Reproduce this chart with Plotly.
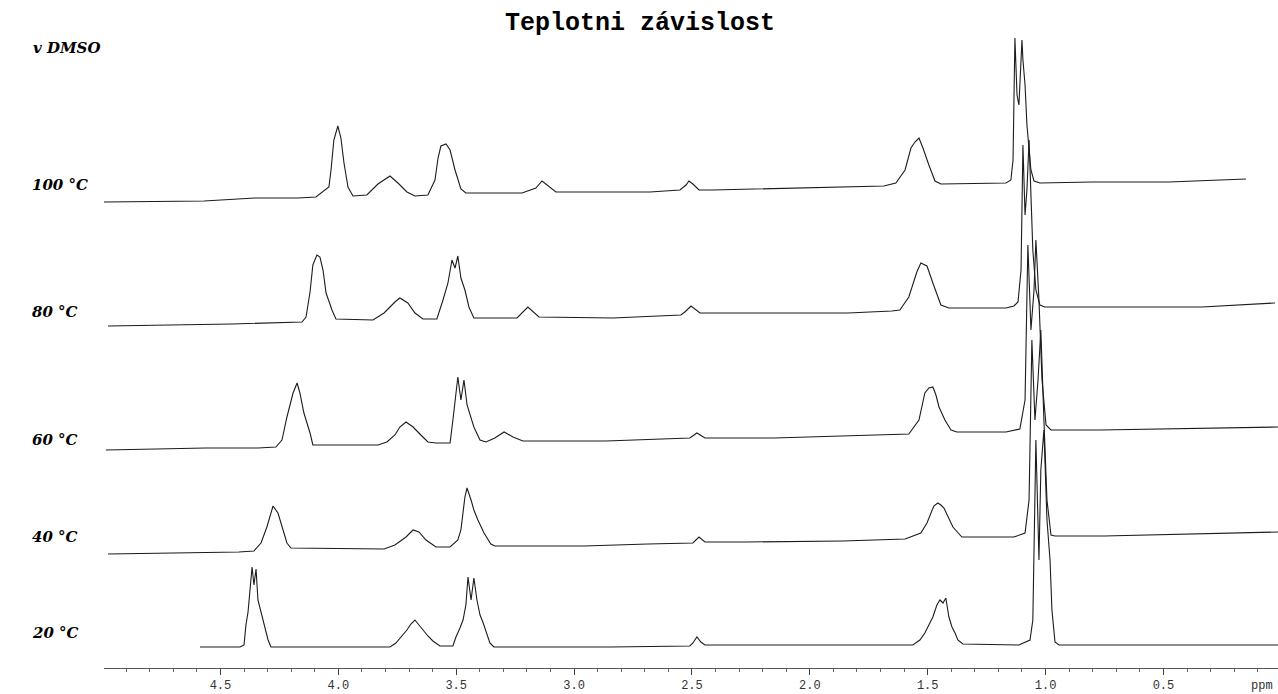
import plotly.graph_objects as go

# ---------------- data (ppm, stacked intensity) ----------------
ppm_100 = [5.020, 4.570, 4.354, 4.171, 4.095, 4.040, 4.031, 4.019, 4.002, 3.989, 3.976, 3.959, 3.938,
           3.879, 3.832, 3.781, 3.747, 3.709, 3.675, 3.620, 3.590, 3.577, 3.565, 3.543, 3.526, 3.505,
           3.480, 3.459, 3.221, 3.162, 3.136, 3.111, 3.077, 2.678, 2.551, 2.525, 2.513, 2.496, 2.470,
           2.411, 2.012, 1.686, 1.635, 1.596, 1.571, 1.554, 1.537, 1.520, 1.495, 1.469, 1.444, 1.168,
           1.147, 1.138, 1.130, 1.121, 1.113, 1.104, 1.100, 1.096, 1.087, 1.079, 1.070, 1.062, 1.049,
           1.024, 0.803, 0.477, 0.150]
int_100 = [466, 467, 470, 470, 471, 481, 498, 528, 542, 530, 505, 481, 472,
           473, 484, 492, 485, 476, 472, 473, 488, 510, 522, 524, 518, 498,
           479, 475, 475, 480, 487, 482, 476, 476, 478, 483, 487, 484, 478,
           478, 480, 482, 485, 498, 520, 526, 530, 520, 503, 487, 484, 485,
           488, 508, 630, 573, 563, 613, 628, 608, 583, 543, 518, 498, 487,
           485, 486, 486, 489]

ppm_80 = [4.977, 4.718, 4.451, 4.154, 4.137, 4.120, 4.108, 4.091, 4.078, 4.065, 4.052, 4.027, 4.010,
          3.853, 3.806, 3.760, 3.739, 3.705, 3.675, 3.641, 3.582, 3.556, 3.535, 3.518, 3.505, 3.493,
          3.480, 3.463, 3.446, 3.425, 3.242, 3.196, 3.149, 2.835, 2.547, 2.530, 2.504, 2.466, 2.360,
          1.838, 1.652, 1.618, 1.580, 1.546, 1.529, 1.503, 1.478, 1.444, 1.410, 1.168, 1.134, 1.117,
          1.104, 1.096, 1.087, 1.079, 1.070, 1.062, 1.054, 1.041, 1.024, 1.003, 0.337, 0.027]
int_80 = [342, 343, 344, 346, 351, 376, 403, 413, 411, 398, 375, 358, 349,
          348, 355, 366, 370, 365, 355, 349, 349, 368, 385, 408, 400, 412,
          390, 378, 361, 350, 350, 361, 351, 350, 353, 356, 362, 355, 355,
          355, 357, 358, 371, 396, 405, 402, 385, 363, 360, 360, 362, 366,
          398, 523, 453, 478, 528, 478, 418, 378, 363, 361, 361, 365]

ppm_60 = [4.986, 4.812, 4.562, 4.341, 4.265, 4.239, 4.218, 4.192, 4.175, 4.163, 4.146, 4.120, 4.108,
          3.832, 3.794, 3.760, 3.739, 3.713, 3.683, 3.650, 3.620, 3.586, 3.526, 3.514, 3.501, 3.493,
          3.480, 3.467, 3.454, 3.437, 3.425, 3.399, 3.374, 3.336, 3.297, 3.259, 3.217, 2.865, 2.619,
          2.509, 2.479, 2.445, 2.152, 1.859, 1.618, 1.580, 1.537, 1.512, 1.495, 1.478, 1.465, 1.452,
          1.427, 1.401, 1.376, 1.168, 1.109, 1.087, 1.075, 1.062, 1.049, 1.041, 1.028, 1.015, 0.998,
          0.977, 0.769, 0.460, 0.014]
int_60 = [218, 219, 220, 220, 221, 228, 251, 275, 285, 275, 255, 235, 223,
          223, 226, 233, 241, 246, 241, 233, 226, 225, 225, 248, 273, 291,
          268, 288, 263, 251, 241, 228, 226, 230, 236, 231, 227, 227, 229,
          230, 235, 230, 230, 232, 233, 234, 248, 275, 280, 281, 273, 261,
          248, 238, 236, 236, 239, 268, 423, 338, 378, 428, 368, 288, 243,
          238, 238, 239, 241]

ppm_40 = [4.977, 4.646, 4.422, 4.358, 4.328, 4.303, 4.277, 4.256, 4.239, 4.218, 4.201, 3.934, 3.806,
          3.760, 3.713, 3.683, 3.658, 3.628, 3.586, 3.526, 3.493, 3.480, 3.463, 3.454, 3.446, 3.437,
          3.425, 3.408, 3.382, 3.353, 3.336, 2.958, 2.687, 2.496, 2.470, 2.445, 2.271, 1.859, 1.596,
          1.529, 1.503, 1.486, 1.474, 1.457, 1.444, 1.431, 1.418, 1.393, 1.355, 1.134, 1.087, 1.070,
          1.058, 1.045, 1.032, 1.020, 1.007, 0.994, 0.977, 0.960, 0.752, 0.375, 0.014]
int_40 = [114, 115, 116, 117, 125, 141, 162, 155, 141, 125, 120, 119, 119,
          123, 131, 138, 136, 128, 121, 121, 128, 138, 171, 180, 173, 168,
          158, 148, 135, 124, 122, 122, 124, 125, 131, 126, 126, 127, 129,
          135, 145, 156, 162, 165, 163, 160, 154, 141, 131, 131, 135, 168,
          328, 248, 288, 338, 248, 168, 133, 132, 132, 134, 136]

ppm_20 = [4.587, 4.417, 4.400, 4.392, 4.383, 4.375, 4.366, 4.358, 4.349, 4.341, 4.328, 4.320, 4.307,
          4.298, 4.286, 3.781, 3.756, 3.730, 3.709, 3.692, 3.675, 3.658, 3.641, 3.620, 3.599, 3.569,
          3.514, 3.501, 3.484, 3.471, 3.459, 3.450, 3.437, 3.425, 3.412, 3.399, 3.387, 3.374, 3.357,
          3.340, 2.848, 2.509, 2.496, 2.479, 2.462, 2.445, 1.686, 1.563, 1.533, 1.512, 1.495, 1.478,
          1.461, 1.448, 1.435, 1.423, 1.410, 1.397, 1.384, 1.372, 1.351, 1.113, 1.066, 1.054, 1.041,
          1.028, 1.020, 1.007, 0.994, 0.981, 0.973, 0.960, 0.943, 0.014]
int_20 = [21, 21, 23, 43, 56, 78, 101, 83, 99, 68, 56, 46, 36,
          28, 21, 21, 25, 32, 38, 44, 48, 43, 38, 32, 27, 22,
          22, 31, 40, 48, 63, 91, 68, 90, 68, 53, 46, 36, 25,
          21, 21, 22, 25, 31, 26, 23, 23, 23, 28, 35, 43, 51,
          63, 68, 65, 70, 51, 41, 35, 28, 24, 23, 28, 48, 228,
          108, 198, 238, 148, 108, 58, 26, 23, 23]

spectra = [(ppm_100, int_100), (ppm_80, int_80), (ppm_60, int_60), (ppm_40, int_40), (ppm_20, int_20)]
temp_labels = ["100 °C", "80 °C", "60 °C", "40 °C", "20 °C"]
temp_label_y = [185, 312, 440, 537, 633]          # pixel rows of the labels
tick_vals = [4.5, 4.0, 3.5, 3.0, 2.5, 2.0, 1.5, 1.0, 0.5]
tick_text = ["4.5", "4.0", "3.5", "3.0", "2.5", "2.0", "1.5", "1.0", "0.5"]
title_text = "Teplotni závislost"
solvent_text = "v DMSO"

W, H = 1278, 694
fig = go.Figure()
for xs, ys in spectra:
    fig.add_trace(go.Scatter(x=xs, y=ys, mode="lines",
                             line=dict(color="#1c1c1c", width=1.1),
                             showlegend=False, hoverinfo="skip"))

mono = "Liberation Mono, Courier New, monospace"
serif = "DejaVu Serif, Liberation Serif, serif"
ann = [
    dict(x=640 / W, y=(H - 23) / H, text=title_text,
         font=dict(family=mono, size=25, color="#000", weight="bold"), xanchor="center"),
    dict(x=31 / W, y=(H - 48) / H, text=solvent_text,
         font=dict(family=serif, size=15, color="#000", weight="bold", style="italic"), xanchor="left"),
    dict(x=1262 / W, y=(H - 686) / H, text="ppm",
         font=dict(family=mono, size=12, color="#333"), xanchor="center"),
]
for t, py in zip(temp_labels, temp_label_y):
    ann.append(dict(x=30 / W, y=(H - py) / H, text=t, xanchor="left",
                    font=dict(family=serif, size=15, color="#000", weight="bold", style="italic")))
for a in ann:
    a.update(xref="paper", yref="paper", showarrow=False, yanchor="middle")

fig.update_layout(
    width=W, height=H,
    margin=dict(l=0, r=0, t=0, b=0),
    paper_bgcolor="white", plot_bgcolor="white",
    annotations=ann,
    xaxis=dict(domain=[104 / W, 1], range=[4.994, 0.014], showgrid=False, zeroline=False,
               showline=True, linecolor="#555", linewidth=1,
               ticks="outside", ticklen=6, tickcolor="#444", tickwidth=1,
               tickvals=tick_vals, ticktext=tick_text,
               tickfont=dict(family=mono, size=12, color="#333"),
               minor=dict(ticks="outside", dtick=0.1, ticklen=3, tickcolor="#666"),
               automargin=False),
    yaxis=dict(domain=[26 / H, 1], range=[0, 668], visible=False, automargin=False),
)
fig.write_html("out.html")
